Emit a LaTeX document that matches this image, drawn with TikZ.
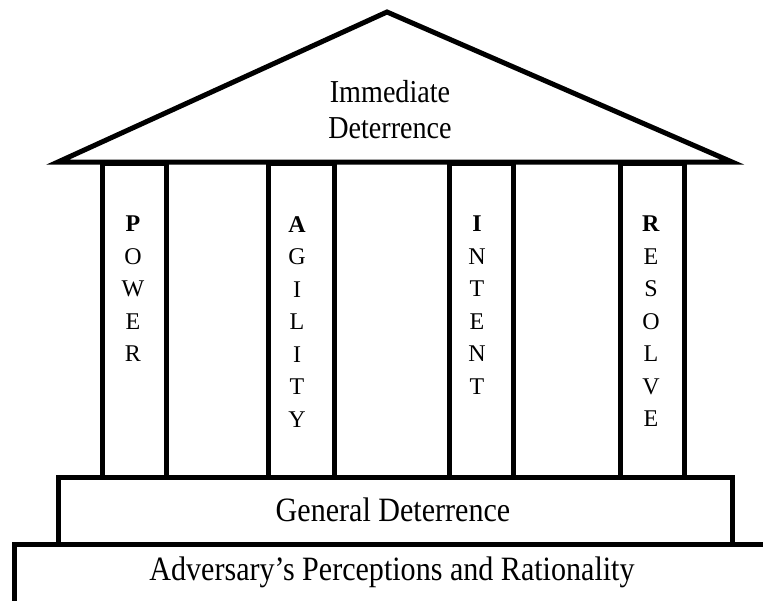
\documentclass[tikz,border=0pt]{standalone}
\usepackage{fontspec}
\setmainfont{Liberation Serif}
\begin{document}
\begin{tikzpicture}[x=1pt,y=-1pt,
  thick line/.style={line width=5pt, line join=miter},
  label/.style={inner sep=0pt, align=center},
  colletters/.style={inner sep=0pt, align=center, anchor=north, font={\fontsize{24}{32.5}\selectfont}}]
\useasboundingbox (0,0) rectangle (763,600);
\clip (0,0) rectangle (763,600);
% base
\draw[thick line] (14,544) rectangle (790,620);
\node[label, font={\fontsize{31}{36}\selectfont}] (adv) at (392,572) {\scalebox{0.97}[1.1]{Adversary’s Perceptions and Rationality}};
% general deterrence
\draw[thick line] (58,477) rectangle (732,544);
\node[label, font={\fontsize{31}{36}\selectfont}] (gen) at (393,510) {\scalebox{0.97}[1.1]{General Deterrence}};
% columns
\draw[thick line] (102,163) rectangle (166,477);
\draw[thick line] (268,163) rectangle (334,477);
\draw[thick line] (449,163) rectangle (513,477);
\draw[thick line] (620,163) rectangle (684,477);
\node[colletters] (power) at (133,216) {\textbf{P}\\O\\W\\E\\R};
\node[colletters] (agility) at (297,216) {\textbf{A}\\G\\I\\L\\I\\T\\Y};
\node[colletters] (intent) at (477,216) {\textbf{I}\\N\\T\\E\\N\\T};
\node[colletters] (resolve) at (651,216) {\textbf{R}\\E\\S\\O\\L\\V\\E};
% roof
\draw[thick line, line join=miter] (58,162) -- (387,12) -- (732,162) -- cycle;
\node[label, font={\fontsize{29}{36}\selectfont}] (imm) at (390,110) {\scalebox{0.97}[1.1]{Immediate}\\\scalebox{0.97}[1.1]{Deterrence}};
\end{tikzpicture}
\end{document}
